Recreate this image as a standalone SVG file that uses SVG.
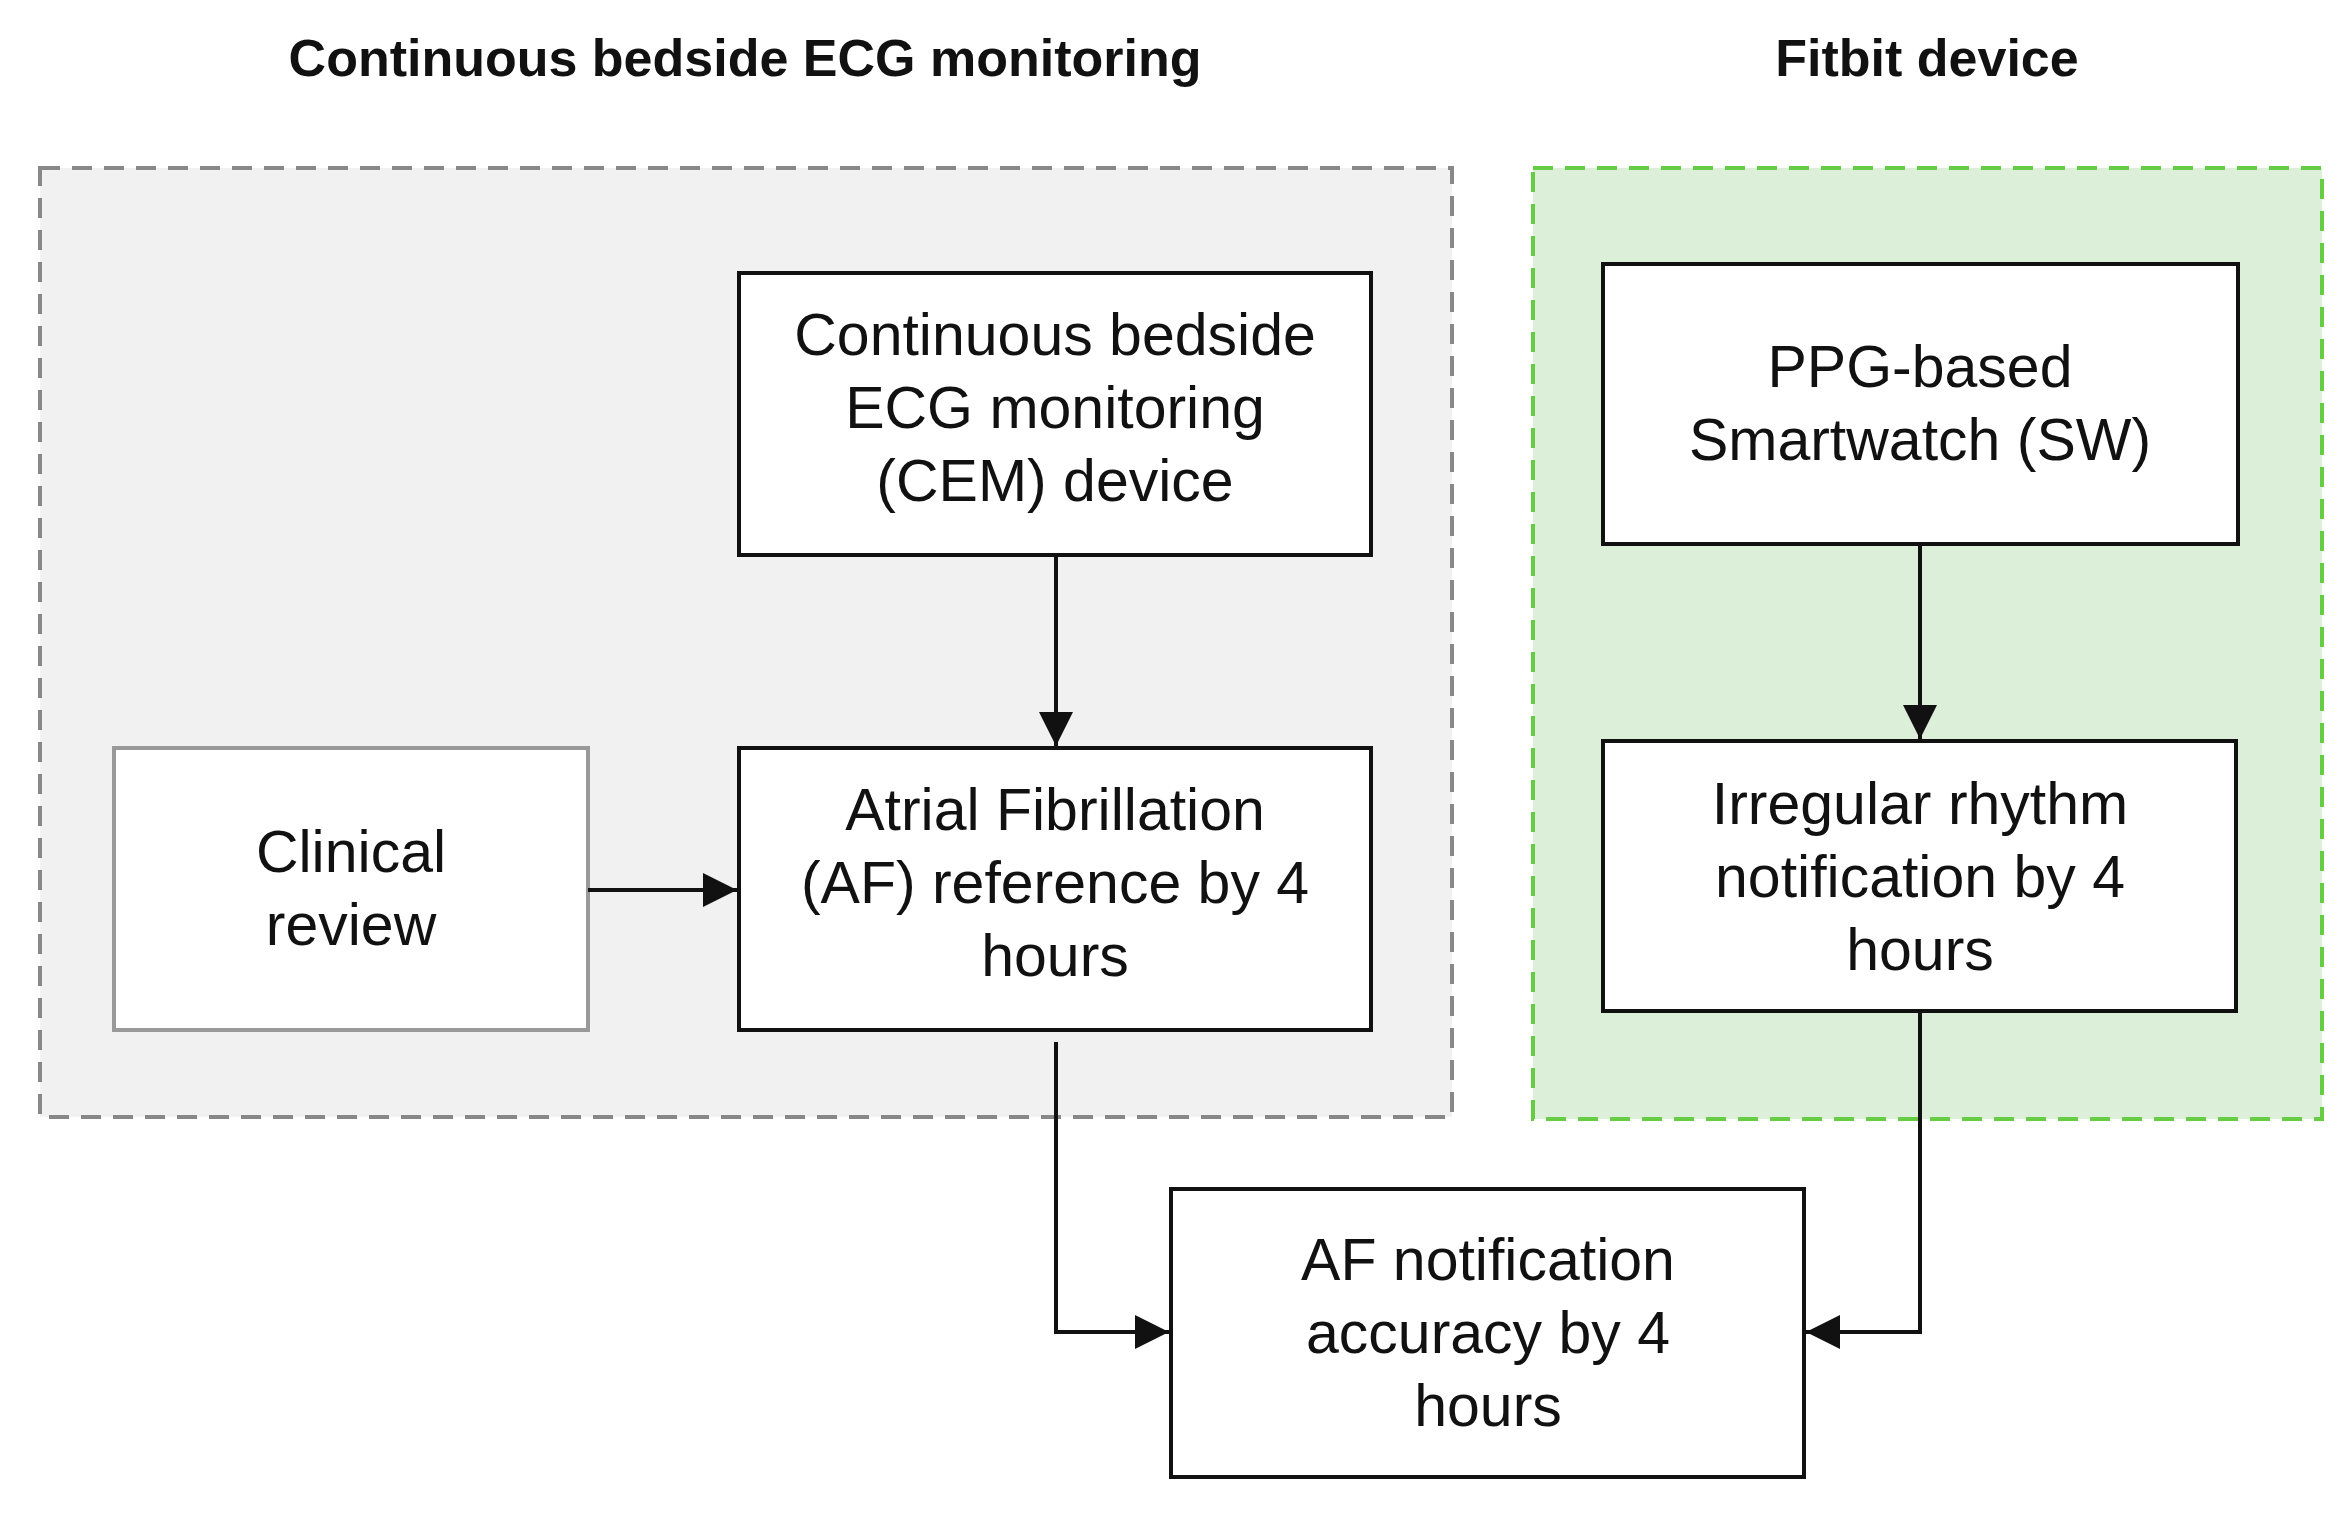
<svg xmlns="http://www.w3.org/2000/svg" width="2339" height="1513" viewBox="0 0 2339 1513">
<style>
.t{font-family:"Liberation Sans",Arial,sans-serif;font-size:59px;fill:#111;text-anchor:middle}
.h{font-family:"Liberation Sans",Arial,sans-serif;font-size:52px;font-weight:bold;fill:#111;text-anchor:middle}
.b{fill:#fff;stroke:#111;stroke-width:4}
.c{fill:none;stroke:#111;stroke-width:4}
</style>
<defs>
<marker id="m" viewBox="0 0 10 10" refX="10" refY="5" markerWidth="34" markerHeight="34" markerUnits="userSpaceOnUse" orient="auto"><path d="M0,0L10,5L0,10z" fill="#111"/></marker></defs>
<rect width="2339" height="1513" fill="#fff"/>
<g id="region-cem"><rect x="40" y="168" width="1412" height="949" fill="#f1f1f1" stroke="#888" stroke-width="4" stroke-dasharray="20,12"/>
<text class="h" x="745" y="76">Continuous bedside ECG monitoring</text></g>
<g id="region-fitbit"><rect x="1533" y="168" width="789" height="951" fill="#dcefd8" stroke="#66cc44" stroke-width="4" stroke-dasharray="20,12"/>
<text class="h" x="1927" y="76">Fitbit device</text></g>
<g id="cem"><rect class="b" x="739" y="273" width="632" height="282"/>
<text class="t" x="1055" y="355">Continuous bedside</text><text class="t" x="1055" y="428">ECG monitoring</text><text class="t" x="1055" y="501">(CEM) device</text></g>
<g id="clinical"><rect class="b" x="114" y="748" width="474" height="282" style="stroke:#999"/>
<text class="t" x="351" y="872">Clinical</text><text class="t" x="351" y="945">review</text></g>
<g id="afref"><rect class="b" x="739" y="748" width="632" height="282"/>
<text class="t" x="1055" y="830">Atrial Fibrillation</text><text class="t" x="1055" y="903">(AF) reference by 4</text><text class="t" x="1055" y="976">hours</text></g>
<g id="ppg"><rect class="b" x="1603" y="264" width="635" height="280"/>
<text class="t" x="1920" y="387">PPG-based</text><text class="t" x="1920" y="460">Smartwatch (SW)</text></g>
<g id="irregular"><rect class="b" x="1603" y="741" width="633" height="270"/>
<text class="t" x="1920" y="824">Irregular rhythm</text><text class="t" x="1920" y="897">notification by 4</text><text class="t" x="1920" y="970">hours</text></g>
<g id="afnotif"><rect class="b" x="1171" y="1189" width="633" height="288"/>
<text class="t" x="1488" y="1280">AF notification</text><text class="t" x="1488" y="1353">accuracy by 4</text><text class="t" x="1488" y="1426">hours</text></g>
<g id="connectors">
<path class="c" d="M1056,555V746" marker-end="url(#m)"/>
<path class="c" d="M1920,544V739" marker-end="url(#m)"/>
<path class="c" d="M588,890H737" marker-end="url(#m)"/>
<path class="c" d="M1056,1042V1332H1169" marker-end="url(#m)"/>
<path class="c" d="M1920,1011V1332H1806" marker-end="url(#m)"/>
</g>
</svg>
